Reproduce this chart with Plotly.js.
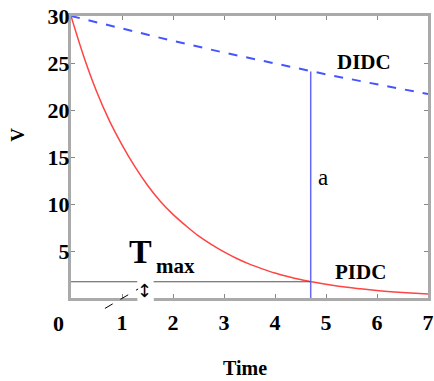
<!DOCTYPE html>
<html><head><meta charset="utf-8">
<script src="https://cdn.plot.ly/plotly-3.0.1.min.js"></script>
<style>html,body{margin:0;padding:0;background:#fff}#c{width:434px;height:381px}</style>
</head><body><div id="c"></div>
<script>
// values
const pidcT = [0, 0.25, 0.5, 0.75, 1, 1.25, 1.5, 1.75, 2, 2.25, 2.5, 2.75, 3, 3.25, 3.5, 3.75, 4, 4.25, 4.5, 4.75, 5, 5.5, 6, 6.5, 7];
const pidcV = [30, 25.7, 22.0, 18.9, 16.3, 14.0, 12.0, 10.3, 8.9, 7.7, 6.6, 5.7, 4.9, 4.2, 3.6, 3.1, 2.65, 2.28, 1.96, 1.7, 1.46, 1.08, 0.8, 0.59, 0.42];
const didcT = [0, 1, 2, 3, 4, 5, 6, 7];
const didcV = [30, 28.64, 27.35, 26.11, 24.93, 23.8, 22.73, 21.7];
const tMark = 4.7;          // time of the vertical marker
const vTop = 24.1;          // DIDC value at tMark
const vLevel = 1.73;        // Tmax level (PIDC at tMark)
const gapFrom = 1.3, gapTo = 1.62;
const xTicks = [1, 2, 3, 4, 5, 6, 7];
const yTicks = [5, 10, 15, 20, 25, 30];

const serif = "Liberation Serif, Times New Roman, serif";
const traces = [
  {x: didcT, y: didcV, mode: 'lines', line: {color: '#4455ff', width: 2, dash: 'dash'}},
  {x: pidcT, y: pidcV, mode: 'lines', line: {color: '#ff4444', width: 1.5, shape: 'spline'}},
  {x: [tMark, tMark], y: [0, vTop], mode: 'lines', line: {color: '#6666ff', width: 1.5}},
  {x: [0, gapFrom, null, gapTo, tMark], y: [vLevel, vLevel, null, vLevel, vLevel], mode: 'lines', line: {color: '#555555', width: 1.2}}
];
const axFont = {family: serif, size: 22, color: '#000', weight: 'bold'};
const layout = {
  width: 434, height: 381,
  margin: {l: 71, r: 6, t: 16, b: 83},
  showlegend: false,
  paper_bgcolor: '#fff', plot_bgcolor: '#fff',
  xaxis: {range: [0, 7], tickvals: xTicks, ticktext: xTicks.map(String), ticks: 'inside', ticklen: 4, tickcolor: '#888',
    showline: true, linecolor: '#aaa', linewidth: 3, mirror: 'ticks', showgrid: false, zeroline: false,
    tickfont: axFont, ticklabelstandoff: 3, ticklabeloverflow: 'allow'},
  yaxis: {range: [0, 30], tickvals: yTicks, ticktext: yTicks.map(String), ticks: 'inside', ticklen: 4, tickcolor: '#888',
    showline: true, linecolor: '#aaa', linewidth: 3, mirror: 'ticks', showgrid: false, zeroline: false,
    tickfont: axFont, ticklabelstandoff: -6},
  shapes: [
    {type: 'rect', xref: 'paper', yref: 'paper', x0: 0.186, x1: 0.232, y0: -0.012, y1: 0.012, fillcolor: '#fff', line: {width: 0}, layer: 'above'},
    {type: 'line', xref: 'paper', yref: 'paper', x0: 0.095, y0: -0.037, x1: 0.188, y1: 0.032, line: {color: '#000', width: 1, dash: 'dash'}, layer: 'above'}
  ],
  annotations: [
    {xref: 'paper', yref: 'paper', x: -0.152, y: 0.578, xanchor: 'center', yanchor: 'middle', text: 'V', textangle: -90, showarrow: false, font: {family: serif, size: 19, weight: 'bold', color: '#000'}},
    {xref: 'paper', yref: 'paper', x: 0.486, y: -0.248, xanchor: 'center', yanchor: 'middle', text: 'Time', showarrow: false, font: {family: serif, size: 20, weight: 'bold', color: '#000'}},
    {xref: 'paper', yref: 'paper', x: -0.036, y: -0.089, xanchor: 'center', yanchor: 'middle', text: '0', showarrow: false, font: axFont},
    {x: 5.75, y: 25.1, text: 'DIDC', showarrow: false, font: {family: serif, size: 21, weight: 'bold', color: '#000'}},
    {x: 5.68, y: 2.8, text: 'PIDC', showarrow: false, font: {family: serif, size: 21, weight: 'bold', color: '#000'}},
    {x: 4.95, y: 12.8, text: 'a', showarrow: false, font: {family: serif, size: 23, color: '#000'}},
    {x: 0.47, y: -1.6, text: 'b', showarrow: false, font: {family: serif, size: 23, color: '#000'}},
    {x: 1.37, y: 4.95, xanchor: 'center', yanchor: 'middle', text: 'T', showarrow: false, font: {family: serif, size: 34, weight: 'bold', color: '#000'}},
    {x: 1.624, y: 3.45, xanchor: 'left', yanchor: 'middle', text: 'max', showarrow: false, font: {family: serif, size: 21, weight: 'bold', color: '#000'}},
    {x: 1.44, y: 0.85, text: '↕', showarrow: false, font: {family: 'DejaVu Sans', size: 18, color: '#000'}}
  ]
};
Plotly.newPlot('c', traces, layout, {displayModeBar: false, staticPlot: true});
</script></body></html>
